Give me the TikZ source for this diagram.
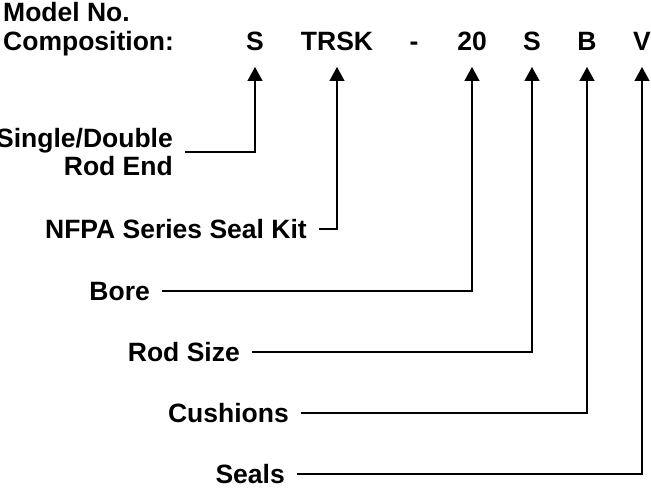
\documentclass[tikz,border=0pt]{standalone}
\usepackage{fontspec}
\setmainfont{Liberation Sans}
\usepackage{tikz}
\usetikzlibrary{arrows.meta, positioning, calc}

\begin{document}
\begin{tikzpicture}[x=1pt, y=-1pt]
  \tikzset{txt/.style={inner sep=0pt, font=\bfseries\fontsize{26.5pt}{28pt}\selectfont}}
  \tikzset{field/.style={txt, text height=19pt, text depth=0pt}}
  \tikzset{conn/.style={line width=1.3pt, -{Triangle[length=14pt, width=15pt]}}}

  \useasboundingbox (0,0) rectangle (651,489);

  % Heading
  \node[txt, anchor=base west] (model) at (3, 22) {Model No.};
  \node[txt, anchor=base west] (comp)  at (3, 51) {Composition:};

  % Code letters
  \foreach \code/\x/\nm in {S/255/cend, TRSK/337/ckit, -/414/cdash, 20/472/cbore,
                            S/532/crod, B/587/ccush, V/642/cseal}{
    \node[txt, anchor=base] (\nm) at (\x, 51) {\code};
  }

  % Field labels
  \node[txt, align=right, anchor=east] (endlbl) at (173, 152) {Single/Double\\Rod End};
  \node[field, anchor=east] (kitlbl)  at (307, 229) {NFPA Series Seal Kit};
  \node[field, anchor=east] (borelbl) at (150, 291) {Bore};
  \node[field, anchor=east] (rodlbl)  at (240, 352) {Rod Size};
  \node[field, anchor=east] (cushlbl) at (289, 413) {Cushions};
  \node[field, anchor=east] (seallbl) at (285, 474) {Seals};

  % Leaders up to the code letters
  \draw[conn] (endlbl.east)  ++(12,0) -| ([yshift=-16pt]cend.base);
  \draw[conn] (kitlbl.east)  ++(12,0) -| ([yshift=-16pt]ckit.base);
  \draw[conn] (borelbl.east) ++(12,0) -| ([yshift=-16pt]cbore.base);
  \draw[conn] (rodlbl.east)  ++(12,0) -| ([yshift=-16pt]crod.base);
  \draw[conn] (cushlbl.east) ++(12,0) -| ([yshift=-16pt]ccush.base);
  \draw[conn] (seallbl.east) ++(12,0) -| ([yshift=-16pt]cseal.base);
\end{tikzpicture}
\end{document}
